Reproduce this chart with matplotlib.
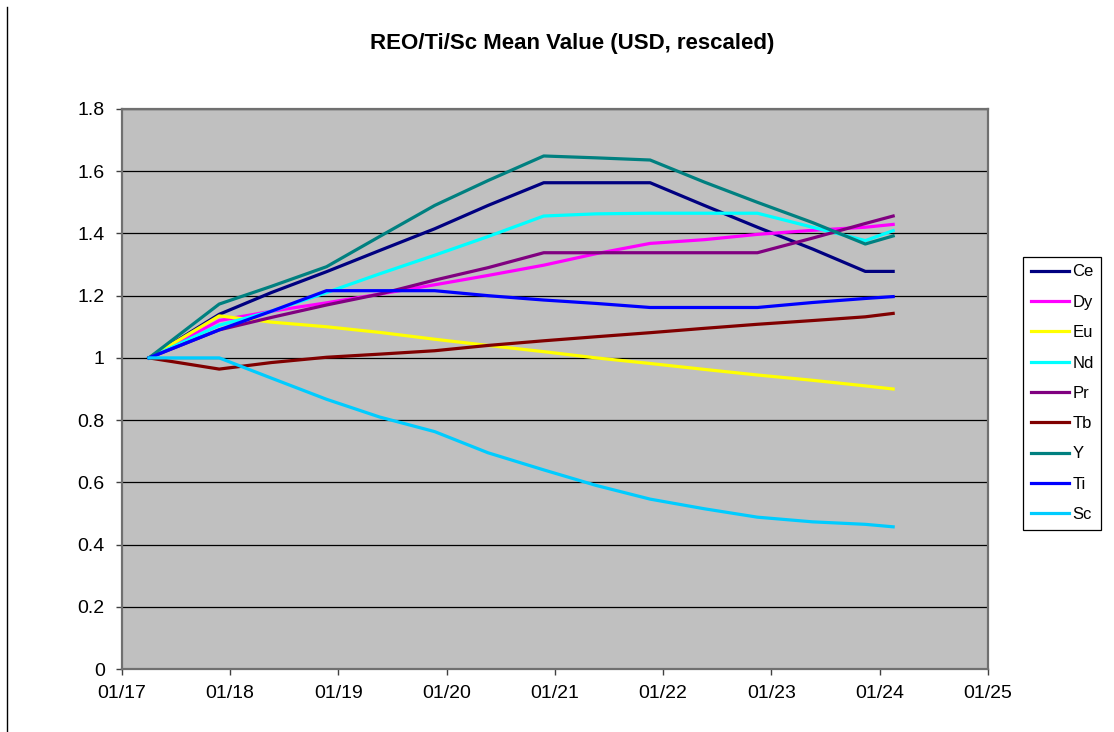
import pandas as pd
import matplotlib
matplotlib.use("Agg")
import matplotlib.pyplot as plt
import matplotlib.dates as mdates
from matplotlib.lines import Line2D

plt.rcParams['font.family'] = ['Liberation Sans', 'DejaVu Sans']

# sample dates (roughly year-end kinks plus mid-year points)
dates = pd.to_datetime([
    "2017-04-02", "2017-11-25", "2018-05-20", "2018-11-22", "2019-05-20",
    "2019-11-22", "2020-05-20", "2020-11-24", "2021-05-20", "2021-11-18",
    "2022-05-20", "2022-11-15", "2023-05-20", "2023-11-14", "2024-02-16",
])

# rescaled mean values (start = 1)
ce = [1.0, 1.14, 1.21, 1.277, 1.345, 1.415, 1.49, 1.563, 1.563, 1.563, 1.49, 1.42, 1.35, 1.278, 1.278]
dy = [1.0, 1.12, 1.15, 1.177, 1.205, 1.235, 1.265, 1.298, 1.335, 1.368, 1.38, 1.397, 1.41, 1.42, 1.429]
eu = [1.0, 1.135, 1.115, 1.10, 1.082, 1.06, 1.04, 1.02, 1.0, 0.982, 0.963, 0.945, 0.928, 0.91, 0.90]
nd = [1.0, 1.105, 1.15, 1.21, 1.27, 1.33, 1.39, 1.456, 1.463, 1.465, 1.465, 1.465, 1.42, 1.377, 1.409]
pr = [1.0, 1.09, 1.13, 1.17, 1.205, 1.25, 1.29, 1.338, 1.338, 1.338, 1.338, 1.338, 1.385, 1.432, 1.456]
tb = [1.0, 0.964, 0.985, 1.002, 1.012, 1.023, 1.04, 1.055, 1.068, 1.081, 1.095, 1.108, 1.12, 1.132, 1.143]
y_ = [1.0, 1.173, 1.23, 1.293, 1.39, 1.49, 1.57, 1.649, 1.643, 1.636, 1.565, 1.50, 1.435, 1.366, 1.392]
ti = [1.0, 1.09, 1.15, 1.216, 1.216, 1.216, 1.20, 1.186, 1.175, 1.162, 1.162, 1.162, 1.178, 1.191, 1.197]
sc = [1.0, 1.0, 0.935, 0.867, 0.81, 0.763, 0.695, 0.64, 0.59, 0.546, 0.515, 0.488, 0.473, 0.465, 0.457]

names = ["Ce", "Dy", "Eu", "Nd", "Pr", "Tb", "Y", "Ti", "Sc"]
series = [ce, dy, eu, nd, pr, tb, y_, ti, sc]
colors = ["#000080", "#FF00FF", "#FFFF00", "#00FFFF", "#800080",
          "#800000", "#008080", "#0000FF", "#00CCFF"]

fig = plt.figure(figsize=(11.14, 7.32), dpi=100)
ax = fig.add_axes([122 / 1114, 1 - 669 / 732, (988 - 122) / 1114, (669 - 109) / 732])
ax.set_facecolor("#C0C0C0")

for name, vals, c in zip(names, series, colors):
    ax.plot(dates, vals, color=c, lw=2.3, label=name, solid_joinstyle="round")

ax.set_ylim(0, 1.8)
ax.set_yticks([0, 0.2, 0.4, 0.6, 0.8, 1, 1.2, 1.4, 1.6, 1.8])
ax.set_yticklabels(["0", "0.2", "0.4", "0.6", "0.8", "1", "1.2", "1.4", "1.6", "1.8"])
ax.set_xlim(pd.Timestamp("2017-01-01"), pd.Timestamp("2025-01-01"))
ax.xaxis.set_major_locator(mdates.YearLocator())
ax.xaxis.set_major_formatter(mdates.DateFormatter("%m/%y"))

ax.yaxis.grid(True, color="black", lw=0.9)
ax.set_axisbelow(True)
for s in ax.spines.values():
    s.set_color("#707070")
    s.set_linewidth(1.6)
ax.tick_params(axis="both", direction="out", length=4.5, width=1, color="#404040",
               labelsize=14, colors="black")
ax.tick_params(axis="y", pad=8)
ax.tick_params(axis="x", pad=7)

fig.text(572 / 1114, 1 - 44 / 732, "REO/Ti/Sc Mean Value (USD, rescaled)",
         ha="center", va="center", fontsize=16, fontweight="bold")

leg = ax.legend(loc="upper left", bbox_to_anchor=(1023 / 1114, 1 - 257 / 732),
                bbox_transform=fig.transFigure, borderaxespad=0, fontsize=12,
                frameon=True, fancybox=False, edgecolor="black", framealpha=1,
                handlelength=2.3, handletextpad=0.2, labelspacing=0.92, borderpad=0.45)
leg.get_frame().set_linewidth(0.9)

# left border line of the chart object
fig.add_artist(Line2D([7 / 1114, 7 / 1114], [0, 1 - 7 / 732], color="black", lw=1))

fig.savefig("out.png", dpi=100)
